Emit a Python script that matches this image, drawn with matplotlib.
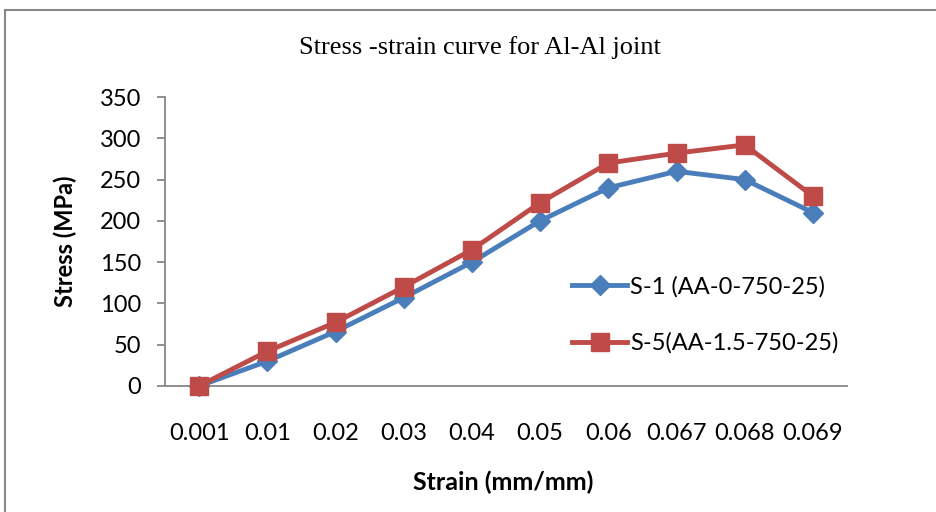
import matplotlib
matplotlib.use("Agg")
import matplotlib.pyplot as plt
from matplotlib.patches import Rectangle

strain = ["0.001", "0.01", "0.02", "0.03", "0.04", "0.05", "0.06", "0.067", "0.068", "0.069"]
s1 = [0, 30, 66, 107, 150, 200, 240, 260, 250, 210]
s5 = [0, 42, 77, 120, 165, 222, 270, 282, 292, 230]
yticks = [0, 50, 100, 150, 200, 250, 300, 350]

W, H = 936, 512
fig = plt.figure(figsize=(W / 100, H / 100), dpi=100)
fig.patch.set_facecolor("white")

# outer chart border
fig.add_artist(Rectangle((5 / W, -0.1), 1.2, (H - 10) / H + 0.1, transform=fig.transFigure,
                         fill=False, edgecolor="#878787", linewidth=1.5))

ax = fig.add_axes([165 / W, 1 - 386 / H, (847 - 165) / W, (386 - 97) / H])
x = list(range(len(strain)))
blue = "#4A7EBB"
red = "#BE4B48"
ax.plot(x, s1, color=blue, lw=3.5, marker="D", ms=10, mfc=blue, mec=blue, label="S-1 (AA-0-750-25)",
        zorder=3, clip_on=False)
ax.plot(x, s5, color=red, lw=3.5, marker="s", ms=13.5, mfc=red, mec=red, label="S-5(AA-1.5-750-25)",
        zorder=4, clip_on=False)

ax.set_xlim(-0.5, len(strain) - 0.5)
ax.set_ylim(0, 350)
ax.set_yticks(yticks)
ax.set_xticks(x)
ax.set_xticklabels(strain)
for s in ["top", "right"]:
    ax.spines[s].set_visible(False)
for s in ["left", "bottom"]:
    ax.spines[s].set_color("#878787")
    ax.spines[s].set_linewidth(1.3)
ax.tick_params(axis="y", length=6, width=1.3, color="#878787", labelsize=17, pad=11)
ax.tick_params(axis="x", length=0, labelsize=17, pad=27)
for lab in ax.get_xticklabels() + ax.get_yticklabels():
    lab.set_fontfamily("Lato")

fig.text(480 / W, 1 - 48 / H, "Stress -strain curve for Al-Al joint", ha="center", va="center",
         fontsize=19, family="Liberation Serif")
fig.text(65 / W, 1 - 241 / H, "Stress (MPa)", rotation=90, ha="center", va="center",
         fontsize=17, fontweight="bold", family="Lato")
fig.text(503 / W, 1 - 482 / H, "Strain (mm/mm)", ha="center", va="center",
         fontsize=18, fontweight="bold", family="Lato")

leg = ax.legend(loc="upper left", bbox_to_anchor=((572 - 165) / (847 - 165), (386 - 276) / (386 - 97)),
                frameon=False, prop={"family": "Lato", "size": 17}, handlelength=2.35,
                handletextpad=0.1, labelspacing=1.48, borderaxespad=0, borderpad=0)

fig.savefig("out.png", dpi=100, facecolor="white")
